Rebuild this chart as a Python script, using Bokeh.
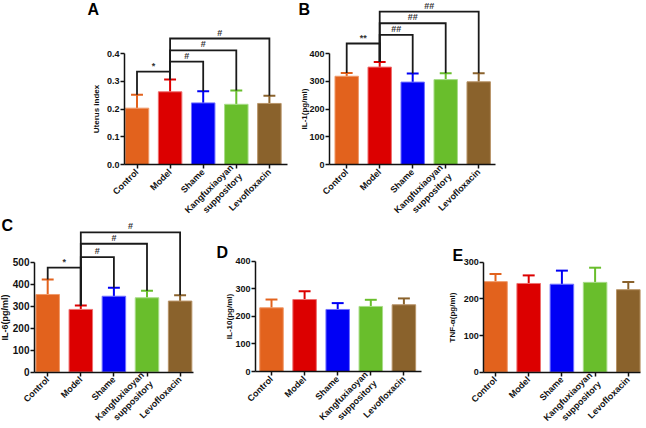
import math
from bokeh.plotting import figure
from bokeh.layouts import column, row
from bokeh.models import Range1d, FixedTicker, PrintfTickFormatter
from bokeh.embed import file_html
from bokeh.resources import INLINE
from bokeh.core.properties import value

# ---------------- data ----------------
groups = ["Control", "Model", "Shame", "Kangfuxiaoyan\nsuppository", "Levofloxacin"]
colors = ["#E2621D", "#DC0000", "#0000F5", "#69BE2C", "#8A622C"]
edges = ["#F09A6A", "#EE7070", "#7070FF", "#A8DC88", "#B89468"]

uterus_mean = [0.203, 0.262, 0.222, 0.217, 0.220]
uterus_sd = [0.048, 0.044, 0.042, 0.050, 0.028]
il1_mean = [318, 351, 297, 306, 298]
il1_sd = [12, 18, 31, 23, 31]
il6_mean = [353, 285, 345, 338, 323]
il6_sd = [68, 18, 39, 32, 27]
il10_mean = [231, 261, 225, 236, 242]
il10_sd = [30, 30, 23, 24, 23]
tnf_mean = [247, 242, 240, 245, 225]
tnf_sd = [21, 22, 37, 40, 21]

uterus_ticks = [0, 0.1, 0.2, 0.3, 0.4]
il1_ticks = [0, 100, 200, 300, 400]
il6_ticks = [0, 100, 200, 300, 400, 500]
il10_ticks = [0, 100, 200, 300, 400]
tnf_ticks = [0, 100, 200, 300]

# significance brackets: (group i, group j), bracket height, mark
a_pairs = [(0, 1), (1, 2), (1, 3), (1, 4)]
a_heights = [0.335, 0.371, 0.411, 0.454]
a_marks = ["*", "#", "#", "#"]
b_pairs = [(0, 1), (1, 2), (1, 3), (1, 4)]
b_heights = [436, 467, 509, 551]
b_marks = ["**", "##", "##", "##"]
c_pairs = [(0, 1), (1, 2), (1, 3), (1, 4)]
c_heights = [475, 523, 584, 636]
c_marks = ["*", "#", "#", "#"]

FONT = "Liberation Sans"


def panel(box, c0, step, axis_x, axis_end, zero_y, top_y, ticks, ylabel,
          means, sds, fmt, letter, letter_xy, pairs=None, heights=None,
          marks=None, ytick_size="9px", ylabel_size="8px", label_gap=3):
    """box = (left, right, top, bottom) of the figure on the page (px);
    c0/step: page x of first bar centre and bar spacing; zero_y/top_y:
    page y of the value 0 and of the last tick."""
    X0, X1, Y0, Y1 = box
    W, H = X1 - X0, Y1 - Y0
    k = (zero_y - top_y) / ticks[-1]
    p = figure(width=W, height=H, output_backend="svg", toolbar_location=None,
               x_range=Range1d((X0 - c0) / step, (X1 - c0) / step),
               y_range=Range1d(-(Y1 - zero_y) / k, (zero_y - Y0) / k),
               min_border=0)
    p.outline_line_color = None
    p.grid.visible = False
    xs = list(range(len(groups)))
    tops = [m + s for m, s in zip(means, sds)]
    # error bars (upper only)
    p.segment(x0=xs, y0=means, x1=xs, y1=tops, line_color=colors, line_width=2)
    p.segment(x0=[x - 0.18 for x in xs], y0=tops, x1=[x + 0.18 for x in xs],
              y1=tops, line_color=colors, line_width=2)
    p.vbar(x=xs, top=means, width=0.71, fill_color=colors,
           line_color=edges, line_width=1)
    if pairs:
        bx, by = [], []
        for (i, j), h in zip(pairs, heights):
            bx.append([i, i, j, j])
            by.append([tops[i], h, h, tops[j]])
        p.multi_line(xs=bx, ys=by, line_color="#1a1a1a", line_width=1.8,
                     line_join="miter")
        p.text(x=[(i + j) / 2 for i, j in pairs], y=heights, text=marks,
               text_font=value(FONT), text_font_size="9px",
               text_font_style="bold", text_color="#333333",
               text_align="center", text_baseline="bottom", y_offset=-1)
    # panel letter
    lx, ly = letter_xy
    p.text(x=[(lx - c0) / step], y=[(zero_y - ly) / k], text=[letter],
           text_font=value(FONT), text_font_size="16px",
           text_font_style="bold", text_color="#000000",
           text_align="left", text_baseline="top")
    # axes, drawn inside the frame at fixed positions
    yax = p.yaxis[0]
    yax.fixed_location = (axis_x - c0) / step
    yax.ticker = FixedTicker(ticks=ticks)
    yax.bounds = (0, ticks[-1])
    yax.formatter = PrintfTickFormatter(format=fmt)
    yax.axis_label = ylabel
    xax = p.xaxis[0]
    xax.fixed_location = 0
    xax.bounds = ((axis_x - c0) / step, (axis_end - c0) / step)
    xax.ticker = FixedTicker(ticks=xs)
    xax.major_label_overrides = {i: g for i, g in enumerate(groups)}
    xax.major_label_orientation = math.pi / 4
    for ax in (xax, yax):
        ax.axis_line_color = "#111111"
        ax.axis_line_width = 1.5
        ax.major_tick_line_color = "#111111"
        ax.major_tick_line_width = 1.5
        ax.major_tick_out = 4
        ax.major_tick_in = 0
        ax.minor_tick_line_color = None
        ax.major_label_text_font = FONT
        ax.major_label_text_font_style = "bold"
        ax.major_label_text_color = "#111111"
        ax.axis_label_text_font = FONT
        ax.axis_label_text_font_style = "bold"
        ax.axis_label_text_color = "#111111"
    yax.major_label_text_font_size = ytick_size
    yax.axis_label_text_font_size = ylabel_size
    yax.major_label_standoff = 1
    yax.axis_label_standoff = label_gap
    xax.major_label_text_font_size = "9px"
    xax.major_label_text_line_height = 1.25
    xax.major_label_standoff = 2
    return p


pA = panel((0, 296, 0, 217), 136.5, 33.1, 124, 287, 164, 53, uterus_ticks,
           "Uterus index", uterus_mean, uterus_sd, "%.1f", "A", (87, 0),
           a_pairs, a_heights, a_marks, label_gap=3)
pB = panel((296, 644, 0, 217), 346.2, 33.0, 329, 495, 164, 53, il1_ticks,
           "IL-1(pg/ml)", il1_mean, il1_sd, "%d", "B", (298, 0),
           b_pairs, b_heights, b_marks, label_gap=-3)
pC = panel((0, 214, 217, 426), 47.2, 33.1, 34, 193, 371.5, 261.7, il6_ticks,
           "IL-6(pg/ml)", il6_mean, il6_sd, "%d", "C", (1, 216),
           c_pairs, c_heights, c_marks, ytick_size="10px", ylabel_size="9px",
           label_gap=0)
pD = panel((214, 446, 217, 426), 271, 33.1, 255, 421, 371, 260.7, il10_ticks,
           "IL-10(pg/ml)", il10_mean, il10_sd, "%d", "D", (216, 243),
           label_gap=-2)
pE = panel((446, 644, 217, 426), 495, 33.2, 483.3, 640, 371.7, 261.7,
           tnf_ticks, "TNF-\u03b1(pg/ml)", tnf_mean, tnf_sd, "%d", "E",
           (452, 246), label_gap=3)

layout = column(row(pA, pB), row(pC, pD, pE))
open("out.html", "w").write(file_html(layout, INLINE))
